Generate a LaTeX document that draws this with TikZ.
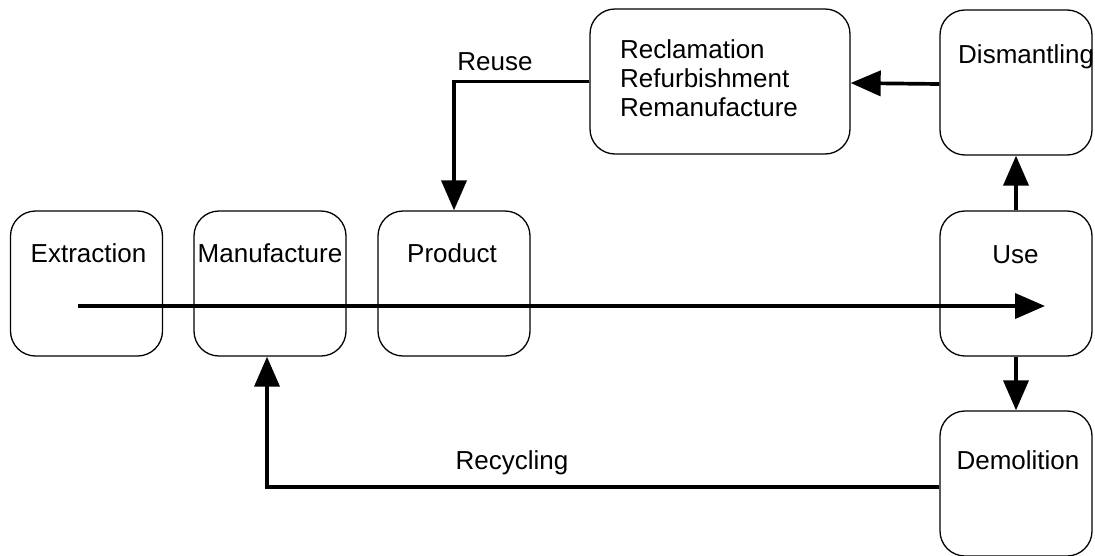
\documentclass[tikz,border=0pt]{standalone}
\usepackage{fontspec}
\setmainfont{Liberation Sans}
\usetikzlibrary{arrows.meta}
\begin{document}
\begin{tikzpicture}[x=1pt,y=-1pt,
  stage/.style={draw, line width=1.3pt, rounded corners=25pt,
    minimum width=152pt, minimum height=145pt, inner sep=0pt},
  txt/.style={font=\fontsize{26}{29}\selectfont, inner sep=0pt},
  flow/.style={line width=3.7pt, -{Triangle[length=30pt,width=25pt]}}]
  \useasboundingbox (0,0) rectangle (1095,555);

  % stage boxes
  \node[stage] (ext)  at (86.5,283.5) {};
  \node[stage] (man)  at (270,283.5) {};
  \node[stage] (prod) at (454,283.5) {};
  \node[stage] (use)  at (1016,283.5) {};
  \node[stage] (dis)  at (1016,82.5) {};
  \node[stage] (dem)  at (1016,483.5) {};
  \node[stage, minimum width=260pt] (rec) at (720,81.5) {};

  % box captions
  \node[txt] (extT)  at (88.5,253) {Extraction};
  \node[txt] (manT)  at (270,253) {Manufacture};
  \node[txt] (prodT) at (452,253) {Product};
  \node[txt] (useT)  at (1015.5,255) {Use};
  \node[txt, anchor=west] (disT) at (958,57) {Dismantling};
  \node[txt] (demT)  at (1018,460) {Demolition};
  \node[txt, anchor=west, align=left] (recT) at (620,78)
    {Reclamation\\Refurbishment\\Remanufacture};

  % connector labels
  \node[txt] (reuseT) at (495,62) {Reuse};
  \node[txt] (recyT)  at (512,463) {Recycling};

  % main linear flow
  \coordinate (start) at (78,306);
  \coordinate (finish) at (1045,306);
  \draw[flow] (start) -- (finish);

  % loops
  \draw[flow] (use.north) -- (dis.south);
  \draw[flow] (use.south) -- (dem.north);
  \draw[flow] ([yshift=-1.5pt]dis.west) -- ([yshift=-1.5pt]rec.east);
  \draw[flow] (rec.west) -| (prod.north);
  \draw[flow] ([yshift=-3.5pt]dem.west) -| ([xshift=-3pt]man.south);
\end{tikzpicture}
\end{document}
